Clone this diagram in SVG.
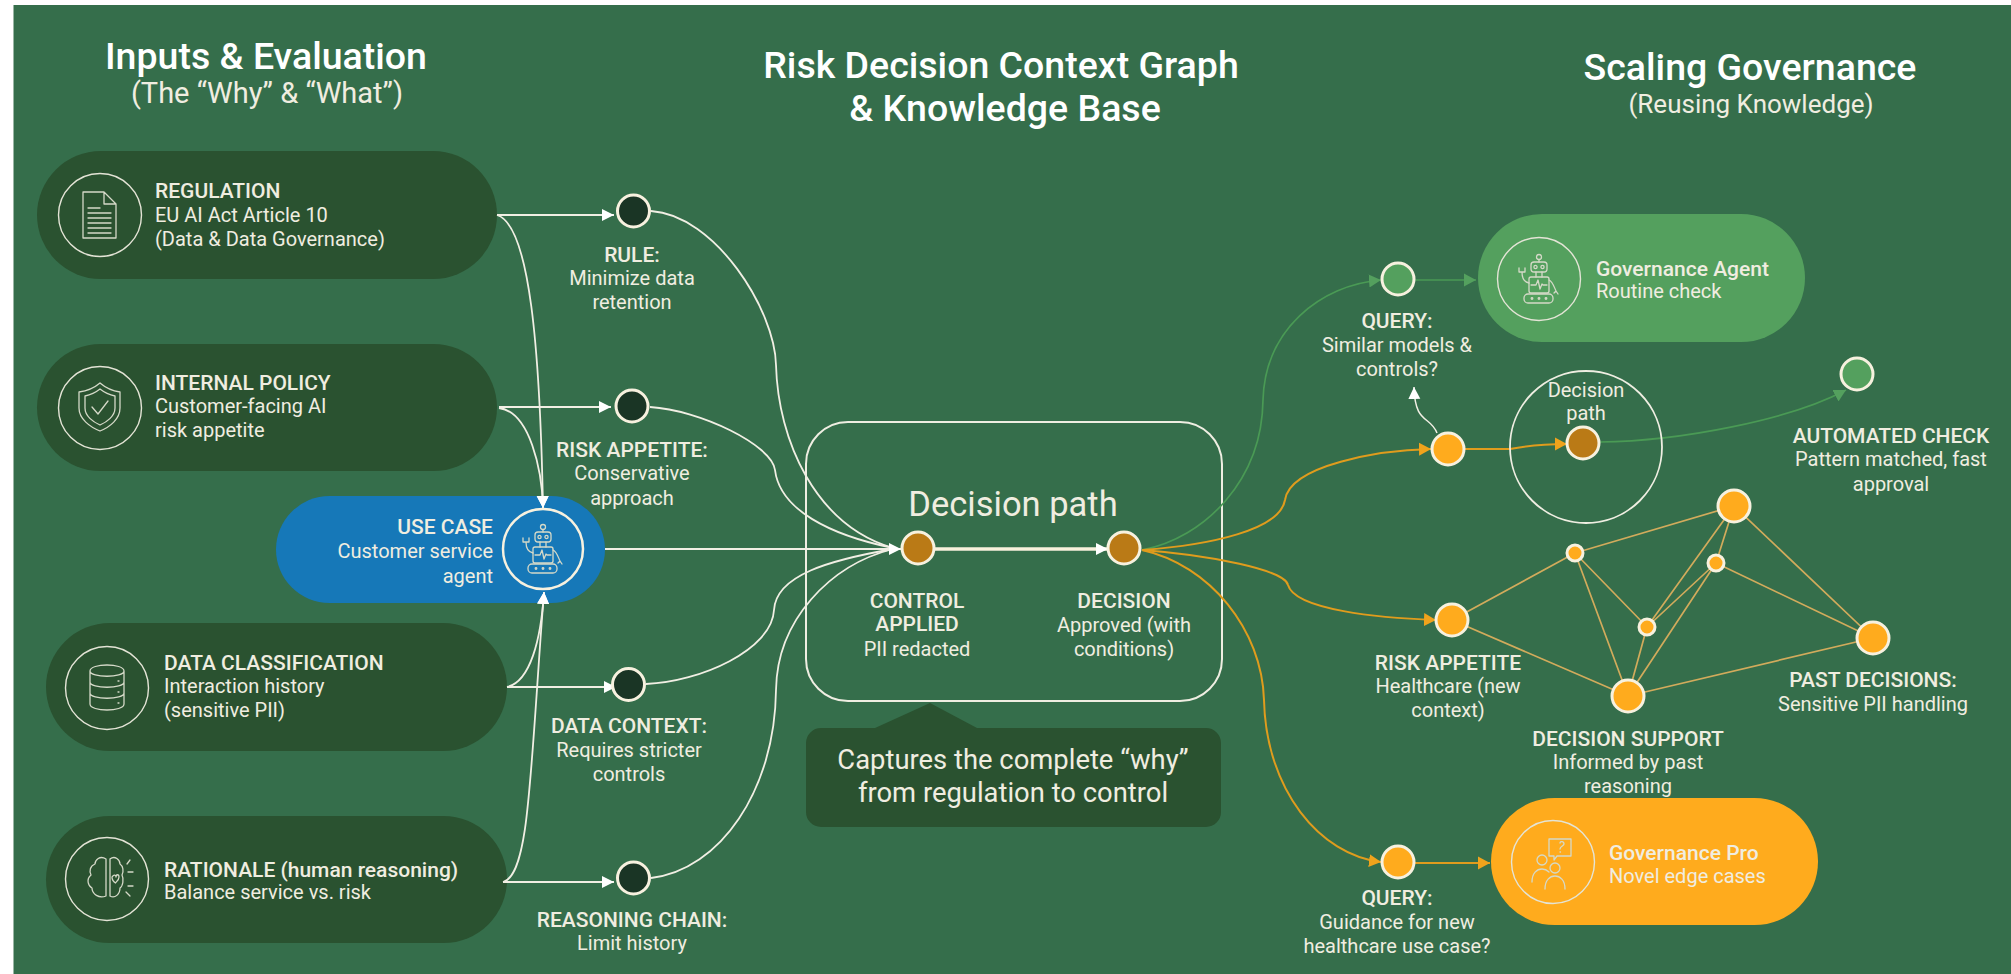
<svg xmlns="http://www.w3.org/2000/svg" width="2011" height="974" viewBox="0 0 2011 974">
<style>
text{font-family:"Roboto","Liberation Sans",sans-serif;fill:#f0ede0;font-size:20px}
.b{font-weight:500;font-size:21px}
.m{text-anchor:middle}
.e{text-anchor:end}
.h1{font-size:37.500px;font-weight:500;fill:#fff}
.pill-d{fill:#2a5230}
.ring{fill:none;stroke:#e4e4d6;stroke-width:1.4}
.ic{fill:none;stroke:#d5d9c8;stroke-width:1.3;stroke-linecap:round;stroke-linejoin:round}
.n{stroke:#f7f1df;stroke-width:3}
.nd{fill:#1a3525}.no{fill:#ffab1d}.nb{fill:#ba7a16}.ng{fill:#54a05e}
.w{fill:none;stroke:#f1efe4;stroke-width:1.8}
.o{fill:none;stroke:#e09c1d;stroke-width:2}
.g{fill:none;stroke:#4a9a55;stroke-width:1.700}
.t{stroke:#d2ab5c;stroke-width:1.700;fill:none}
</style>
<defs>
<marker id="aw" markerUnits="userSpaceOnUse" markerWidth="13" markerHeight="13" refX="12" refY="6.5" orient="auto"><path d="M0 0.5L12 6.5L0 12.5Z" fill="#fff"/></marker>
<marker id="ao" markerUnits="userSpaceOnUse" markerWidth="13" markerHeight="14" refX="12" refY="7" orient="auto"><path d="M0 0.5L12 7L0 13.5Z" fill="#f0a31c"/></marker>
<marker id="ag" markerUnits="userSpaceOnUse" markerWidth="13" markerHeight="14" refX="12" refY="7" orient="auto"><path d="M0 0.5L12 7L0 13.5Z" fill="#54a05e"/></marker>
<g id="robot" class="ic">
<circle cx="0" cy="-22" r="2.500"/><path d="M0 -19.500V-17"/>
<rect x="-8" y="-17" width="16" height="10" rx="3"/><circle cx="-3.500" cy="-12" r="1.600"/><circle cx="3.500" cy="-12" r="1.600"/>
<path d="M-3 -7V-2M3 -7V-2"/>
<rect x="-10" y="-2" width="20" height="16" rx="2"/>
<path d="M-8 6H-3L-1 1L1 10L3 5L4 6H8"/>
<rect x="-15" y="15" width="29" height="9" rx="4"/><circle cx="-7" cy="19.500" r=".8"/><circle cx="0" cy="19.500" r=".8"/><circle cx="7" cy="19.500" r=".8"/>
<path d="M-10 4C-15 3 -17 -2 -17 -7M-20 -11V-7H-14V-11"/>
<path d="M10 1C14 3 15 8 17 12M15 14L17 12L19 15"/>
</g>
</defs>
<rect width="2011" height="974" fill="#fff"/>
<rect x="13.500" y="5" width="1998" height="969" fill="#356e4b"/>

<g id="titles">
<text class="h1 m" x="266" y="69">Inputs &amp; Evaluation</text>
<text class="m" x="267" y="103" style="font-size:29px">(The “Why” &amp; “What”)</text>
<text class="h1 m" x="1001" y="78">Risk Decision Context Graph</text>
<text class="h1 m" x="1005" y="121">&amp; Knowledge Base</text>
<text class="h1 m" x="1750" y="80">Scaling Governance</text>
<text class="m" x="1751" y="113" style="font-size:26px">(Reusing Knowledge)</text>
</g>

<g id="box-decision-path">
<rect x="806" y="422" width="416" height="279" rx="42" fill="none" stroke="#efeee2" stroke-width="2"/>
<text class="m" x="1013" y="516" style="font-size:34.500px">Decision path</text>
</g>

<g id="node-regulation">
<rect class="pill-d" x="37" y="151" width="460" height="128" rx="64"/>
<circle class="ring" cx="100" cy="215" r="41.500"/>
<path class="ic" d="M83 192H104L116 204V238H83ZM104 192V204H116M88 208H100M88 213H111M88 218H111M88 223H111M88 228H111M88 233H111"/>
<text class="b" x="155" y="198">REGULATION</text><text x="155" y="222">EU AI Act Article 10</text><text x="155" y="246">(Data &amp; Data Governance)</text>
</g>
<g id="node-internal-policy">
<rect class="pill-d" x="37" y="344" width="460" height="127" rx="63.500"/>
<circle class="ring" cx="100" cy="408" r="41.500"/>
<path class="ic" d="M100 383C107 389 113 391 120 392V408C120 419 110 427 100 431C90 427 79 419 79 408V392C87 391 93 389 100 383ZM100 389C105 393 110 395 115 396V408C115 416 107 422 100 425C93 422 85 416 85 408V396C90 395 95 393 100 389ZM92 407L98 414L108 401"/>
<text class="b" x="155" y="390">INTERNAL POLICY</text><text x="155" y="413">Customer-facing AI</text><text x="155" y="437">risk appetite</text>
</g>
<g id="node-use-case">
<rect x="276" y="496" width="329" height="107" rx="53.500" fill="#1678b8"/>
<circle cx="543" cy="549" r="40" fill="none" stroke="#f7f1df" stroke-width="2.500"/>
<use href="#robot" x="543" y="549"/>
<text class="b e" x="493" y="534">USE CASE</text><text class="e" x="493" y="558">Customer service</text><text class="e" x="493" y="583">agent</text>
</g>
<g id="node-data-classification">
<rect class="pill-d" x="46" y="623" width="461" height="128" rx="64"/>
<circle class="ring" cx="107" cy="688" r="41.500"/>
<path class="ic" d="M90 671C90 663 124 663 124 671V704C124 712 90 712 90 704ZM90 671C90 678 124 678 124 671M90 682C90 689 124 689 124 682M90 693C90 700 124 700 124 693M118 681H119M118 692H119M118 703H119"/>
<text class="b" x="164" y="670">DATA CLASSIFICATION</text><text x="164" y="693">Interaction history</text><text x="164" y="717">(sensitive PII)</text>
</g>
<g id="node-rationale">
<rect class="pill-d" x="46" y="816" width="461" height="127" rx="63.500"/>
<circle class="ring" cx="107" cy="879" r="41.500"/>
<path class="ic" d="M106 859C100 855 95 860 95 864C90 866 89 871 91 875C86 879 88 886 92 888C92 894 99 899 106 896ZM110 859C115 855 120 860 120 864C123 866 124 871 122 875C124 879 123 886 120 888C120 894 115 899 110 896ZM110 859V896M112 877C114 874 116 875 116 877C116 874 119 874 119 877C119 880 116 882 115.500 883C114 882 112 880 112 877M127 864L130 860M128 872H133M128 886H133M126 892L130 896"/>
<text class="b" x="164" y="877">RATIONALE (human reasoning)</text><text x="164" y="899">Balance service vs. risk</text>
</g>
<g id="node-governance-agent">
<rect x="1478" y="214" width="327" height="128" rx="64" fill="#54a05e"/>
<circle class="ring" cx="1539" cy="279" r="41.500"/>
<use href="#robot" x="1539" y="279"/>
<text class="b" x="1596" y="276">Governance Agent</text><text x="1596" y="298">Routine check</text>
</g>
<g id="node-governance-pro">
<rect x="1491" y="798" width="327" height="127" rx="63.500" fill="#ffab1d"/>
<circle class="ring" cx="1553" cy="862" r="41.500"/>
<path class="ic" d="M1549 839H1571V856H1557L1554 860V856H1549ZM1560 843C1560 841 1564 841 1564 844C1564 846 1560 846 1560 849M1560 852H1560.500"/>
<circle class="ic" cx="1542" cy="860" r="5"/><path class="ic" d="M1532 882C1532 873 1537 869 1542 869C1545 869 1547 870 1549 872"/>
<circle class="ic" cx="1555" cy="868" r="5"/><path class="ic" d="M1545 889C1545 880 1550 876 1555 876C1560 876 1565 880 1565 889"/>
<text class="b" x="1609" y="860">Governance Pro</text><text x="1609" y="883">Novel edge cases</text>
</g>

<g id="connectors">
<path class="w" d="M497 215H614" marker-end="url(#aw)"/>
<path class="w" d="M499 407H611" marker-end="url(#aw)"/>
<path class="w" d="M507 687H616" marker-end="url(#aw)"/>
<path class="w" d="M503 882H614" marker-end="url(#aw)"/>
<path class="w" d="M497 215C530 225 540 350 543 508" marker-end="url(#aw)"/>
<path class="w" d="M499 408C530 412 542 470 543 508" marker-end="url(#aw)"/>
<path class="w" d="M507 687C530 682 541 640 544 592" marker-end="url(#aw)"/>
<path class="w" d="M503 882C530 875 530 770 544 592" marker-end="url(#aw)"/>
<path class="w" d="M651 211C715 215 775 310 776 365C778 440 815 525 893 548"/>
<path class="w" d="M650 407C700 410 772 445 775 470C780 510 830 535 893 548"/>
<path class="w" d="M646 684C700 682 772 650 774 610C776 575 830 560 893 549"/>
<path class="w" d="M651 878C720 870 775 790 776 690C777 620 830 565 893 549"/>
<path class="w" d="M605 549H901" marker-end="url(#aw)"/>
<path d="M935 549H1108" stroke="#f9f1dc" stroke-width="3.500" fill="none" marker-end="url(#aw)"/>
<path class="g" d="M1142 550C1205 538 1262 480 1263 400C1265 330 1320 285 1381 280" marker-end="url(#ag)"/>
<path class="o" d="M1142 550C1210 545 1280 530 1285 500C1290 465 1380 450 1431 449" marker-end="url(#ao)"/>
<path class="o" d="M1142 550C1210 555 1285 570 1288 585C1295 610 1380 618 1436 620" marker-end="url(#ao)"/>
<path class="o" d="M1142 550C1210 565 1262 630 1264 700C1266 790 1320 855 1381 862" marker-end="url(#ao)"/>
<path class="g" d="M1414 280H1476" marker-end="url(#ag)"/>
<path class="o" d="M1414 863H1490" marker-end="url(#ao)"/>
<path class="o" d="M1464 449L1510 449C1525 446 1540 444 1567 444" marker-end="url(#ao)"/>
<path class="g" d="M1600 442C1680 441 1790 420 1846 390" marker-end="url(#ag)"/>
<path fill="none" stroke="#f1efe4" stroke-width="1.500" d="M1437 433C1430 415 1415 425 1414 387" marker-end="url(#aw)"/>
<g id="graph-edges">
<path class="t" d="M1452 620L1575 553M1452 620L1628 696M1575 553L1734 506M1575 553L1647 627M1575 553L1628 696M1647 627L1734 506M1647 627L1716 563M1647 627L1628 696M1716 563L1734 506M1716 563L1873 638M1716 563L1628 696M1734 506L1873 638M1628 696L1873 638"/>
</g>
</g>

<g id="node-rule"><circle class="n nd" cx="633.500" cy="211" r="16"/>
<text class="b m" x="632" y="262">RULE:</text><text class="m" x="632" y="285">Minimize data</text><text class="m" x="632" y="309">retention</text></g>
<g id="node-risk-appetite"><circle class="n nd" cx="632" cy="406" r="16"/>
<text class="b m" x="632" y="457">RISK APPETITE:</text><text class="m" x="632" y="480">Conservative</text><text class="m" x="632" y="505">approach</text></g>
<g id="node-data-context"><circle class="n nd" cx="628.500" cy="684.500" r="16"/>
<text class="b m" x="629" y="733">DATA CONTEXT:</text><text class="m" x="629" y="757">Requires stricter</text><text class="m" x="629" y="781">controls</text></g>
<g id="node-reasoning-chain"><circle class="n nd" cx="633.500" cy="878" r="16"/>
<text class="b m" x="632" y="927">REASONING CHAIN:</text><text class="m" x="632" y="950">Limit history</text></g>

<g id="node-control"><circle class="n nb" cx="918" cy="548" r="16"/>
<text class="b m" x="917" y="608">CONTROL</text><text class="b m" x="917" y="631">APPLIED</text><text class="m" x="917" y="656">PII redacted</text></g>
<g id="node-decision"><circle class="n nb" cx="1124" cy="548" r="16"/>
<text class="b m" x="1124" y="608">DECISION</text><text class="m" x="1124" y="632">Approved (with</text><text class="m" x="1124" y="656">conditions)</text></g>

<g id="callout">
<path d="M821 728H875L930 703L977 728H1206A15 15 0 0 1 1221 743V812A15 15 0 0 1 1206 827H821A15 15 0 0 1 806 812V743A15 15 0 0 1 821 728Z" fill="#2a5230"/>
<text class="m" x="1013" y="769" style="font-size:27.400px">Captures the complete “why”</text><text class="m" x="1013" y="802" style="font-size:27.400px">from regulation to control</text>
</g>

<g id="node-query-green"><circle class="n ng" cx="1398" cy="279" r="16"/>
<text class="b m" x="1397" y="328">QUERY:</text><text class="m" x="1397" y="352">Similar models &amp;</text><text class="m" x="1397" y="376">controls?</text></g>
<g id="node-yellow-a"><circle class="n no" cx="1448" cy="449" r="16"/></g>
<g id="node-decision-path-circle">
<circle cx="1586" cy="447" r="76" fill="none" stroke="#efeee2" stroke-width="1.800"/>
<text class="m" x="1586" y="397">Decision</text><text class="m" x="1586" y="420">path</text>
<circle class="n nb" cx="1583" cy="443" r="16"/>
</g>
<g id="node-automated-check"><circle class="n ng" cx="1857" cy="374" r="16"/>
<text class="b m" x="1891" y="443">AUTOMATED CHECK</text><text class="m" x="1891" y="466">Pattern matched, fast</text><text class="m" x="1891" y="491">approval</text></g>

<g id="node-graph-top"><circle class="n no" cx="1734" cy="506" r="16"/></g>
<g id="node-graph-s1"><circle class="n no" cx="1575" cy="553" r="8"/></g>
<g id="node-graph-s2"><circle class="n no" cx="1716" cy="563" r="8"/></g>
<g id="node-graph-s3"><circle class="n no" cx="1647" cy="627" r="8"/></g>
<g id="node-risk-appetite-2"><circle class="n no" cx="1452" cy="620" r="16"/>
<text class="b m" x="1448" y="670">RISK APPETITE</text><text class="m" x="1448" y="693">Healthcare (new</text><text class="m" x="1448" y="717">context)</text></g>
<g id="node-past-decisions"><circle class="n no" cx="1873" cy="638" r="16"/>
<text class="b m" x="1873" y="687">PAST DECISIONS:</text><text class="m" x="1873" y="711">Sensitive PII handling</text></g>
<g id="node-decision-support"><circle class="n no" cx="1628" cy="696" r="16"/>
<text class="b m" x="1628" y="746">DECISION SUPPORT</text><text class="m" x="1628" y="769">Informed by past</text><text class="m" x="1628" y="793">reasoning</text></g>

<g id="node-query-orange"><circle class="n no" cx="1398" cy="862" r="16"/>
<text class="b m" x="1397" y="905">QUERY:</text><text class="m" x="1397" y="929">Guidance for new</text><text class="m" x="1397" y="953">healthcare use case?</text></g>
</svg>
